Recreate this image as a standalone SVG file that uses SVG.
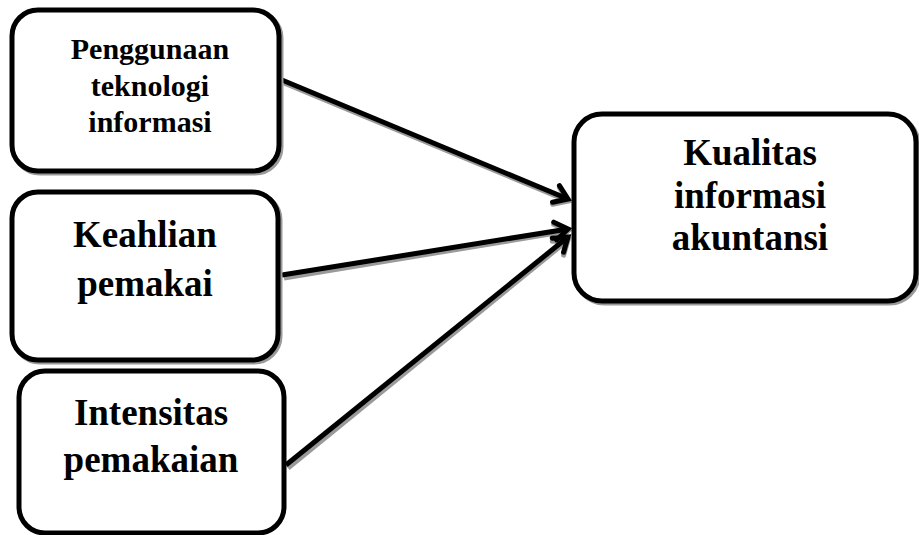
<svg xmlns="http://www.w3.org/2000/svg" width="919" height="535" viewBox="0 0 919 535">
<style>
.box{fill:#fff;stroke:#000;stroke-width:5}
.bsh{fill:none;stroke:#9a9a9a;stroke-width:5}
.t{font-family:"Liberation Serif","Times New Roman",serif;font-weight:bold;fill:#000;text-anchor:middle}
.ln{stroke:#000;stroke-width:5;fill:none;marker-end:url(#ah)}
.sh{stroke:#9a9a9a;stroke-width:5;fill:none;marker-end:url(#ahs)}
</style>
<defs>
<marker id="ah" markerUnits="userSpaceOnUse" orient="auto" markerWidth="30" markerHeight="30" refX="0" refY="0" viewBox="-16 -15 30 30" overflow="visible">
<path d="M-13,-9 L0,0 L-13,9" fill="none" stroke="#000" stroke-width="5" stroke-linecap="round" stroke-linejoin="miter"/>
</marker>
<marker id="ahs" markerUnits="userSpaceOnUse" orient="auto" markerWidth="30" markerHeight="30" refX="0" refY="0" viewBox="-16 -15 30 30" overflow="visible">
<path d="M-13,-9 L0,0 L-13,9" fill="none" stroke="#9a9a9a" stroke-width="5" stroke-linecap="round"/>
</marker>
</defs>
<g id="connectors">
<line class="sh" x1="284" y1="83" x2="568" y2="201"/>
<line class="sh" x1="284" y1="278" x2="568" y2="231"/>
<line class="sh" x1="288" y1="468" x2="568" y2="240"/>
<line class="ln" x1="282" y1="80" x2="568" y2="199"/>
<line class="ln" x1="282" y1="275" x2="568" y2="229"/>
<line class="ln" x1="286" y1="465" x2="568" y2="237"/>
</g>
<g id="n1">
<rect class="bsh" x="14" y="12" width="267" height="161" rx="26"/>
<rect class="box" x="12" y="10" width="267" height="161" rx="26"/>
<text class="t" x="150" y="59" font-size="30">Penggunaan</text>
<text class="t" x="150" y="96" font-size="30">teknologi</text>
<text class="t" x="150" y="132" font-size="30">informasi</text>
</g>
<g id="n2">
<rect class="bsh" x="14" y="194" width="266" height="168" rx="26"/>
<rect class="box" x="12" y="192" width="266" height="168" rx="26"/>
<text class="t" x="145" y="247" font-size="37">Keahlian</text>
<text class="t" x="145" y="296" font-size="37">pemakai</text>
</g>
<g id="n3">
<rect class="box" x="19" y="371" width="265" height="162" rx="26"/>
<text class="t" x="151" y="425" font-size="37">Intensitas</text>
<text class="t" x="151" y="472" font-size="37">pemakaian</text>
</g>
<g id="n4">
<rect class="bsh" x="576" y="116" width="342" height="187" rx="28"/>
<rect class="box" x="574" y="114" width="342" height="187" rx="28"/>
<text class="t" x="750" y="165" font-size="37">Kualitas</text>
<text class="t" x="750" y="208" font-size="37">informasi</text>
<text class="t" x="750" y="250" font-size="37">akuntansi</text>
</g>
</svg>
